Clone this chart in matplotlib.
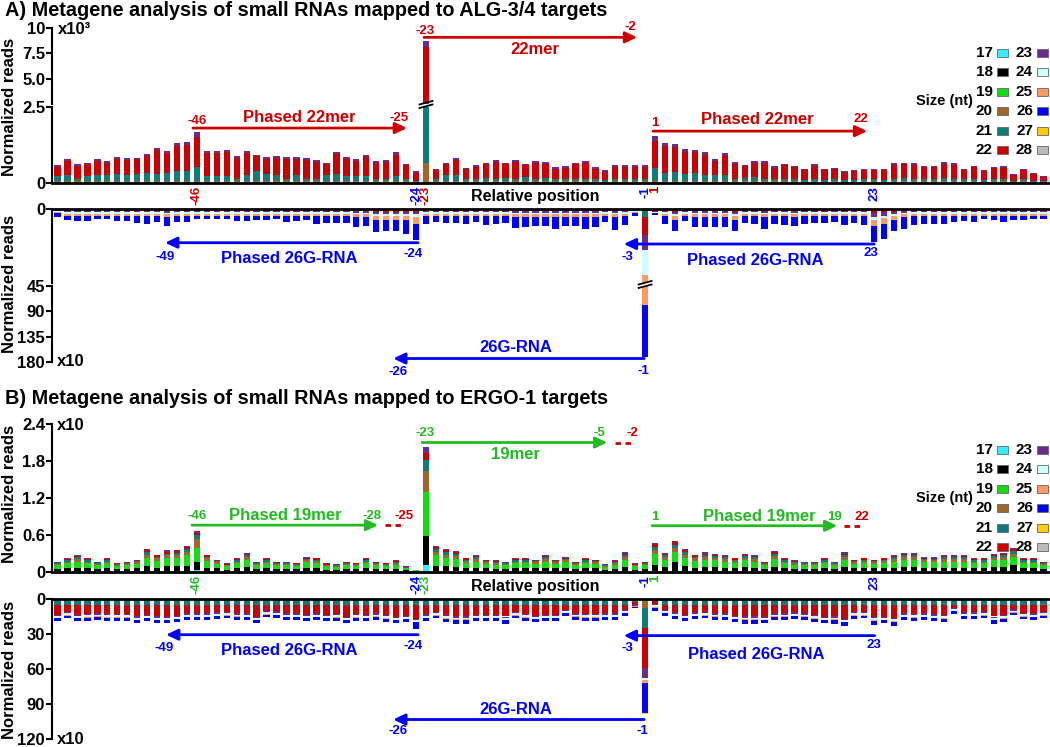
import matplotlib
matplotlib.use("Agg")
import matplotlib.pyplot as plt
from matplotlib.patches import Rectangle
from matplotlib.transforms import blended_transform_factory
import numpy as np

plt.rcParams['font.family'] = ['Liberation Sans', 'DejaVu Sans']
plt.rcParams['font.weight'] = 'bold'
plt.rcParams['axes.linewidth'] = 1.5

W, H = 1050, 747
fig = plt.figure(figsize=(W / 100, H / 100), dpi=100)

# ---------------- categories ----------------
positions = list(range(-60, 0)) + list(range(1, 41))
size_nt = [17, 18, 19, 20, 21, 22, 23, 24, 25, 26, 27, 28]
size_colors = {17: '#33EEFF', 18: '#000000', 19: '#11DD11', 20: '#A0662A',
               21: '#0E7C7B', 22: '#CC0000', 23: '#6A2C91', 24: '#CCFFFF',
               25: '#FF9966', 26: '#0000FF', 27: '#FFCC00', 28: '#BBBBBB'}

# ---------------- Panel A, sense (x10^3 reads) ----------------
a20 = [.06, .07, .06, .07, .07, .08, .07, .07, .08, .07,
       .07, .07, .08, .08, .09, .07, .07, .06, .06, .07,
       .08, .07, .07, .06, .07, .06, .06, .07, .07, .07,
       .07, .07, .06, .06, .07, .06, .05, .65, .06, .07,
       .07, .06, .06, .06, .06, .06, .06, .06, .06, .06,
       .06, .06, .06, .06, .06, .05, .06, .06, .06, .06,
       .07, .07, .07, .07, .07, .06, .06, .06, .06, .06,
       .06, .06, .06, .06, .06, .05, .06, .05, .06, .05,
       .05, .06, .06, .05, .06, .06, .06, .06, .06, .06,
       .06, .06, .06, .05, .06, .06, .05, .06, .05, .04]
a21 = [.17, .20, .09, .18, .20, .18, .23, .20, .23, .26,
       .23, .26, .31, .33, .44, .18, .18, .18, .07, .20,
       .31, .23, .20, .09, .20, .09, .09, .20, .23, .18,
       .18, .18, .09, .09, .17, .09, .04, 1.95, .07, .20,
       .20, .07, .09, .13, .09, .13, .09, .15, .09, .13,
       .07, .09, .09, .07, .07, .05, .09, .07, .09, .09,
       .42, .26, .31, .23, .26, .20, .20, .21, .09, .13,
       .15, .08, .09, .07, .09, .05, .09, .06, .09, .05,
       .06, .07, .07, .05, .09, .10, .09, .07, .09, .11,
       .09, .07, .08, .05, .09, .07, .03, .07, .03, .02]
a22 = [.30, .45, .41, .37, .47, .42, .49, .50, .47, .56,
       .79, .67, .83, .83, .99, .74, .74, .79, .70, .72,
       .49, .51, .56, .65, .54, .62, .56, .35, .65, .54,
       .47, .61, .51, .56, .70, .44, .25, 5.55, .29, .35,
       .50, .33, .40, .43, .54, .43, .56, .38, .53, .45,
       .35, .36, .48, .55, .35, .28, .39, .42, .39, .40,
       .89, .89, .80, .73, .68, .68, .48, .64, .48, .37,
       .45, .52, .36, .46, .37, .33, .42, .31, .31, .25,
       .29, .30, .30, .33, .45, .47, .45, .39, .37, .47,
       .45, .31, .38, .30, .35, .38, .20, .29, .22, .15]
a23 = [.06, .06, .06, .06, .06, .06, .06, .06, .06, .06,
       .08, .06, .10, .10, .16, .06, .06, .06, .06, .06,
       .06, .06, .06, .06, .06, .06, .06, .06, .06, .06,
       .06, .06, .06, .06, .08, .05, .05, .60, .06, .06,
       .06, .05, .05, .05, .06, .05, .06, .05, .06, .05,
       .05, .05, .05, .06, .05, .04, .05, .05, .05, .05,
       .18, .10, .12, .08, .08, .08, .07, .08, .06, .05,
       .06, .06, .05, .05, .05, .05, .05, .04, .05, .04,
       .04, .04, .04, .04, .05, .05, .05, .05, .05, .05,
       .05, .04, .05, .04, .05, .05, .03, .04, .03, .02]

# ---------------- Panel A, antisense (x10 reads) ----------------
b21 = [0, 0, 0, 0, 0, 0, 0, 0, 0, 0,
       0, 0, 0, 0, 0, 0, 0, 0, 0, 0,
       0, 0, 0, 0, 0, 0, 0, 0, 0, 0,
       0, 0, 0, 0, 0, 0, 0, 0, 0, 0,
       0, 0, 0, 0, 0, 0, 0, 0, 0, 0,
       0, 0, 0, 0, 0, 0, 0, 0, 0, 4.9,
       0, 0, 0, 0, 0, 0, 0, 0, 0, 0,
       0, 0, 0, 0, 0, 0, 0, 0, 0, 0,
       0, 0, 0, 0, 0, 0, 0, 0, 0, 0,
       0, 0, 0, 0, 0, 0, 0, 0, 0, 0]
b22 = [.8, 1.2, 1.2, 1.2, 1.2, 1.2, 1.2, 1.2, 1.2, 1.2,
       1.2, 1.3, 1.2, 1.2, 1.2, 1.2, 1.2, 1.2, 1.2, 1.2,
       1.2, 1.2, 1.2, 1.2, 1.2, 1.2, 1.2, 1.2, 1.2, 1.2,
       1.3, 1.3, 1.4, 1.4, 1.4, 1.4, 1.4, 1.2, 1.2, 1.2,
       1.2, 1.2, 1.2, 1.2, 1.2, 1.2, 1.3, 1.3, 1.3, 1.3,
       1.3, 1.3, 1.3, 1.3, 1.3, 1.2, 1.3, 1.2, .8, 11.0,
       1.5, 1.2, 1.4, 1.2, 1.3, 1.3, 1.3, 1.3, 1.4, 1.2,
       1.2, 1.3, 1.2, 1.2, 1.3, 1.2, 1.2, 1.2, 1.2, 1.2,
       1.2, 1.2, 2.0, 1.8, 1.4, 1.3, 1.2, 1.2, 1.2, 1.2,
       1.2, 1.2, 1.2, 1.2, 1.2, 1.2, 1.2, 1.2, 1.2, 1.2]
b23 = [.3, .4, .4, .4, .4, .4, .4, .4, .4, .4,
       .4, .7, .4, .4, .4, .4, .4, .4, .4, .4,
       .4, .4, .4, .4, .4, .4, .4, .4, .4, .4,
       .7, .7, 1.2, 1.2, 1.2, 1.2, 1.6, .4, .4, .4,
       .4, .4, .4, .4, .4, .4, .7, .7, .7, .7,
       .7, .7, .7, .7, .7, .4, .7, .4, .3, 9.0,
       .3, .4, 1.2, .4, .7, .7, .7, .7, 1.2, .4,
       .4, .7, .4, .4, .7, .4, .4, .4, .4, .4,
       .4, .4, 2.8, 2.0, 1.2, .7, .4, .4, .4, .4,
       .4, .4, .4, .4, .4, .4, .4, .4, .4, .4]
b24 = [.6, 1.0, 1.0, 1.0, 1.0, 1.0, 1.0, 1.0, 1.0, 1.0,
       1.0, 1.0, 1.0, 1.0, 1.0, 1.0, 1.0, 1.0, 1.0, 1.0,
       1.0, 1.0, 1.0, 1.0, 1.0, 1.0, 1.0, 1.0, 1.0, 1.0,
       1.0, 1.0, 1.2, 1.2, 1.2, 1.2, 1.4, 1.0, 1.0, 1.0,
       1.0, 1.0, 1.0, 1.0, 1.0, 1.0, 1.0, 1.0, 1.0, 1.0,
       1.0, 1.0, 1.0, 1.0, 1.0, 1.0, 1.0, 1.0, .6, 15.0,
       .4, 1.0, 1.2, 1.0, 1.0, 1.0, 1.0, 1.0, 1.2, 1.0,
       1.0, 1.0, 1.0, 1.0, 1.0, 1.0, 1.0, 1.0, 1.0, 1.0,
       1.0, 1.0, 1.6, 1.5, 1.2, 1.0, 1.0, 1.0, 1.0, 1.0,
       1.0, 1.0, 1.0, 1.0, 1.0, 1.0, 1.0, 1.0, 1.0, 1.0]
b25 = [.6, 1.2, 1.2, 1.2, 1.2, 1.2, 1.2, 1.2, 1.2, 1.2,
       1.2, 2.0, 1.2, 1.2, 1.2, 1.2, 1.2, 1.2, 1.2, 1.2,
       1.2, 1.2, 1.2, 1.2, 1.2, 1.2, 1.2, 1.2, 1.2, 1.2,
       2.0, 2.0, 3.0, 3.0, 3.0, 3.0, 4.7, 1.2, 1.2, 1.2,
       1.2, 1.2, 1.2, 1.2, 1.2, 1.2, 2.0, 2.0, 2.0, 2.0,
       2.0, 2.0, 2.0, 2.0, 2.0, 1.2, 2.0, 1.2, .6, 39.0,
       .3, 1.2, 3.0, 1.2, 2.0, 2.0, 2.0, 2.0, 3.0, 1.2,
       1.2, 2.0, 1.2, 1.2, 2.0, 1.2, 1.2, 1.2, 1.2, 1.2,
       1.2, 1.2, 3.7, 3.5, 3.0, 2.0, 1.2, 1.2, 1.2, 1.2,
       1.2, 1.2, 1.2, 1.2, 1.2, 1.2, 1.2, 1.2, 1.2, 1.2]
b26 = [2.2, 2.7, 3.1, 3.3, 2.3, 2.1, 3.3, 3.1, 4.3, 5.3,
       3.7, 5.0, 3.7, 3.7, 2.1, 2.3, 2.1, 2.1, 3.3, 3.1,
       2.7, 2.7, 2.3, 3.7, 3.1, 2.7, 5.1, 4.3, 4.3, 4.3,
       6.0, 5.2, 6.8, 6.2, 6.2, 8.4, 9.6, 5.3, 4.1, 4.7,
       4.7, 5.3, 4.1, 5.8, 5.3, 4.7, 6.2, 5.6, 5.0, 5.0,
       7.2, 5.0, 5.0, 7.2, 6.0, 4.1, 7.6, 5.8, 1.8, 93.0,
       1.0, 5.1, 6.4, 3.3, 6.0, 5.6, 5.6, 5.6, 6.2, 4.7,
       5.3, 7.0, 5.1, 5.8, 5.0, 5.3, 4.3, 4.7, 4.1, 5.8,
       4.3, 5.8, 9.6, 9.3, 6.4, 6.8, 6.0, 5.1, 5.1, 5.1,
       3.9, 3.1, 4.1, 2.1, 2.7, 3.9, 2.7, 2.7, 2.3, 2.1]

# ---------------- Panel B, sense (x10 reads) ----------------
c17 = [.02, .02, .02, .02, .02, .02, .02, .02, .02, .02,
       .02, .02, .02, .02, .04, .02, .02, .02, .02, .02,
       .02, .02, .02, .02, .02, .02, .02, .02, .02, .02,
       .02, .02, .02, .02, .02, .02, .01, .12, .02, .02,
       .02, .02, .02, .02, .02, .02, .02, .02, .02, .02,
       .02, .02, .02, .02, .02, .02, .02, .02, .02, .02,
       .02, .02, .02, .02, .02, .02, .02, .02, .02, .02,
       .02, .02, .02, .02, .02, .02, .02, .02, .02, .02,
       .02, .02, .02, .02, .02, .02, .02, .02, .02, .02,
       .02, .02, .02, .02, .02, .02, .02, .02, .02, .02]
c18 = [.03, .04, .05, .04, .03, .04, .03, .03, .04, .07,
       .05, .07, .07, .08, .13, .05, .04, .02, .04, .06,
       .03, .04, .03, .03, .03, .05, .04, .02, .02, .03,
       .03, .04, .03, .03, .03, .01, .01, .47, .08, .07,
       .06, .04, .05, .04, .03, .03, .04, .04, .04, .05,
       .04, .05, .03, .04, .04, .02, .03, .06, .02, .03,
       .09, .06, .15, .07, .05, .06, .06, .05, .04, .06,
       .05, .03, .06, .04, .03, .03, .03, .04, .03, .06,
       .04, .04, .04, .04, .05, .06, .06, .05, .05, .05,
       .05, .05, .04, .04, .06, .06, .10, .04, .04, .03]
c19 = [.06, .08, .10, .08, .06, .08, .05, .06, .07, .14,
       .11, .13, .14, .17, .22, .11, .07, .05, .08, .12,
       .06, .08, .06, .06, .05, .09, .09, .05, .04, .06,
       .05, .08, .06, .05, .07, .03, .01, .71, .17, .14,
       .13, .09, .10, .07, .07, .06, .08, .08, .07, .10,
       .07, .09, .06, .08, .07, .04, .07, .12, .05, .06,
       .18, .12, .15, .14, .11, .12, .11, .10, .09, .11,
       .10, .06, .13, .08, .07, .06, .06, .08, .06, .12,
       .07, .09, .07, .09, .10, .12, .12, .09, .09, .10,
       .10, .10, .08, .08, .11, .12, .13, .08, .08, .06]
c20 = [.02, .03, .04, .03, .02, .03, .02, .02, .03, .05,
       .04, .05, .05, .06, .15, .04, .03, .02, .03, .04,
       .02, .03, .02, .02, .02, .03, .03, .02, .02, .02,
       .02, .03, .02, .02, .03, .01, .00, .34, .06, .05,
       .05, .03, .04, .03, .03, .02, .03, .03, .03, .04,
       .03, .03, .02, .03, .03, .02, .03, .05, .02, .02,
       .07, .04, .07, .05, .04, .05, .04, .04, .03, .04,
       .04, .02, .05, .03, .03, .02, .02, .03, .02, .05,
       .03, .03, .03, .03, .04, .05, .04, .03, .03, .04,
       .04, .04, .03, .03, .04, .04, .05, .03, .03, .02]
c21 = [.01, .02, .03, .02, .01, .02, .01, .02, .02, .04,
       .03, .03, .03, .04, .06, .03, .02, .01, .02, .03,
       .01, .02, .02, .01, .01, .02, .02, .01, .01, .02,
       .01, .02, .02, .01, .02, .01, .00, .17, .04, .04,
       .03, .02, .03, .02, .02, .01, .02, .02, .02, .03,
       .02, .02, .02, .02, .02, .01, .02, .03, .01, .02,
       .05, .03, .05, .04, .03, .03, .03, .03, .02, .03,
       .03, .02, .03, .02, .02, .01, .02, .02, .01, .03,
       .02, .02, .02, .02, .03, .03, .03, .02, .02, .03,
       .03, .03, .02, .02, .03, .03, .04, .02, .02, .02]
c22 = [.01, .02, .02, .02, .01, .02, .01, .01, .01, .03,
       .02, .03, .03, .03, .04, .02, .01, .01, .02, .02,
       .01, .02, .01, .01, .01, .02, .02, .01, .01, .01,
       .01, .02, .01, .01, .01, .01, .00, .12, .03, .03,
       .03, .02, .02, .01, .01, .01, .02, .02, .01, .02,
       .01, .02, .01, .02, .01, .01, .01, .02, .01, .01,
       .04, .02, .04, .03, .02, .02, .02, .02, .02, .02,
       .02, .01, .03, .02, .01, .01, .01, .02, .01, .02,
       .01, .02, .01, .02, .02, .02, .02, .02, .02, .02,
       .02, .02, .02, .02, .02, .02, .03, .02, .02, .01]
c23 = [.01, .01, .01, .01, .01, .01, .01, .01, .01, .02,
       .01, .02, .02, .02, .03, .01, .01, .01, .01, .01,
       .01, .01, .01, .01, .01, .01, .01, .01, .01, .01,
       .01, .01, .01, .01, .01, .00, .00, .09, .02, .02,
       .02, .01, .01, .01, .01, .01, .01, .01, .01, .01,
       .01, .01, .01, .01, .01, .01, .01, .02, .01, .01,
       .02, .01, .02, .02, .01, .02, .01, .01, .01, .01,
       .01, .01, .02, .01, .01, .01, .01, .01, .01, .02,
       .01, .01, .01, .01, .01, .01, .01, .01, .01, .01,
       .01, .01, .01, .01, .01, .01, .02, .01, .01, .01]

# ---------------- Panel B, antisense (x10 reads) ----------------
d19 = [.5, .5, .5, .5, .5, .5, .5, .5, .5, .5,
       .5, .5, .5, .5, .5, .5, .5, .5, .5, .5,
       .5, .5, .5, .5, .5, .5, .5, .5, .5, .5,
       .5, .5, .5, .5, .5, .5, .5, .5, .5, .5,
       .5, .5, .5, .5, .5, .5, .5, .5, .5, .5,
       .5, .5, .5, .5, .5, .5, .5, .5, .3, 1.7,
       .3, .5, .5, .5, .5, .5, .5, .5, .5, .5,
       .5, .5, .5, .5, .5, .5, .5, .5, .5, .5,
       .5, .5, .5, .5, .5, .5, .5, .5, .5, .5,
       .5, .5, .5, .5, .5, .5, .5, .5, .5, .5]
d20 = [1.0, 1.0, 1.0, 1.0, 1.0, 1.0, 1.0, 1.0, 1.0, 1.0,
       1.0, 1.0, 1.0, 1.0, 1.0, 1.0, 1.0, 1.0, 1.0, 1.0,
       1.0, 1.0, 1.0, 1.0, 1.0, 1.0, 1.0, 1.0, 1.0, 1.0,
       1.0, 1.0, 1.0, 1.0, 1.0, 1.0, 1.0, 1.0, 1.0, 1.0,
       1.0, 1.0, 1.0, 1.0, 1.0, 1.0, 1.0, 1.0, 1.0, 1.0,
       1.0, 1.0, 1.0, 1.0, 1.0, 1.0, 1.0, 1.0, .5, 6.1,
       .5, 1.0, 1.0, 1.0, 1.0, 1.0, 1.0, 1.0, 1.0, 1.0,
       1.0, 1.0, 1.0, 1.0, 1.0, 1.0, 1.0, 1.0, 1.0, 1.0,
       1.0, 1.0, 1.0, 1.0, 1.0, 1.0, 1.0, 1.0, 1.0, 1.0,
       1.0, 1.0, 1.0, 1.0, 1.0, 1.0, 1.0, 1.0, 1.0, 1.0]
d21 = [3.5, 3.5, 3.5, 3.5, 3.5, 3.5, 3.5, 3.5, 3.5, 3.5,
       3.5, 3.5, 3.5, 3.5, 3.5, 3.5, 3.5, 3.5, 3.5, 3.5,
       3.5, 3.5, 3.5, 3.5, 3.5, 3.5, 3.5, 3.5, 3.5, 3.5,
       3.5, 3.5, 3.5, 3.5, 3.5, 3.5, 3.5, 3.5, 3.5, 3.5,
       3.5, 3.5, 3.5, 3.5, 3.5, 3.5, 3.5, 3.5, 3.5, 3.5,
       3.5, 3.5, 3.5, 3.5, 3.5, 3.5, 3.5, 3.5, 2.0, 16.7,
       1.0, 3.5, 3.5, 3.5, 3.5, 3.5, 3.5, 3.5, 3.5, 3.5,
       3.5, 3.5, 3.5, 3.5, 3.5, 3.5, 3.5, 3.5, 3.5, 3.5,
       3.5, 3.5, 3.5, 3.5, 3.5, 3.5, 3.5, 3.5, 3.5, 3.5,
       3.5, 3.5, 3.5, 3.5, 3.5, 3.5, 3.5, 3.5, 3.5, 3.5]
d22 = [8.5, 6.0, 8.5, 7.9, 7.1, 7.9, 7.9, 7.9, 9.9, 8.5,
       9.9, 10.1, 9.3, 7.4, 7.4, 7.4, 6.5, 6.0, 7.1, 7.4,
       10.1, 5.1, 5.7, 7.4, 7.4, 8.5, 7.4, 8.5, 7.9, 10.1,
       7.9, 8.5, 7.1, 8.7, 10.1, 9.3, 11.9, 8.2, 6.0, 8.7,
       9.7, 9.7, 8.5, 8.5, 8.5, 10.0, 6.0, 7.9, 9.3, 8.5,
       8.5, 4.2, 7.1, 7.9, 7.9, 7.4, 7.4, 4.2, 2.6, 34.7,
       2.8, 4.2, 6.5, 8.5, 6.5, 6.0, 7.1, 7.4, 9.3, 9.7,
       9.7, 10.1, 7.1, 7.1, 6.5, 7.1, 8.7, 10.1, 9.7, 11.8,
       6.2, 6.0, 10.5, 10.1, 11.3, 7.3, 7.9, 7.3, 8.2, 8.7,
       2.3, 6.5, 6.5, 6.0, 10.0, 8.7, 3.7, 6.8, 7.3, 6.0]
d23 = [1.2, 1.2, 1.2, 1.2, 1.2, 1.2, 1.2, 1.2, 1.2, 1.2,
       1.2, 1.2, 1.2, 1.2, 1.2, 1.2, 1.2, 1.2, 1.2, 1.2,
       1.2, 1.2, 1.2, 1.2, 1.2, 1.2, 1.2, 1.2, 1.2, 1.2,
       1.2, 1.2, 1.2, 1.2, 1.2, 1.2, 1.2, 1.2, 1.2, 1.2,
       1.2, 1.2, 1.2, 1.2, 1.2, 1.2, 1.2, 1.2, 1.2, 1.2,
       1.2, 1.2, 1.2, 1.2, 1.2, 1.2, 1.2, 1.2, .5, 8.3,
       .8, 1.2, 1.2, 1.2, 1.2, 1.2, 1.2, 1.2, 1.2, 1.2,
       1.2, 1.2, 1.2, 1.2, 1.2, 1.2, 1.2, 1.2, 1.2, 1.2,
       1.2, 1.2, 1.2, 1.2, 1.2, 1.2, 1.2, 1.2, 1.2, 1.2,
       1.2, 1.2, 1.2, 1.2, 1.2, 1.2, 1.2, 1.2, 1.2, 1.2]
d24 = [1.5, 1.5, 1.5, 1.5, 1.5, 1.5, 1.5, 1.5, 1.5, 1.5,
       1.5, 1.5, 1.5, 1.5, 1.5, 1.5, 1.5, 1.5, 1.5, 1.5,
       1.5, 1.5, 1.5, 1.5, 1.5, 1.5, 1.5, 1.5, 1.5, 1.5,
       1.5, 1.5, 1.5, 1.5, 1.5, 1.5, 1.5, 1.5, 1.5, 1.5,
       1.5, 1.5, 1.5, 1.5, 1.5, 1.5, 1.5, 1.5, 1.5, 1.5,
       1.5, 1.5, 1.5, 1.5, 1.5, 1.5, 1.5, 1.5, .5, 2.0,
       1.5, 1.5, 1.5, 1.5, 1.5, 1.5, 1.5, 1.5, 1.5, 1.5,
       1.5, 1.5, 1.5, 1.5, 1.5, 1.5, 1.5, 1.5, 1.5, 1.5,
       1.5, 1.5, 1.5, 1.5, 1.5, 1.5, 1.5, 1.5, 1.5, 1.5,
       1.5, 1.5, 1.5, 1.5, 1.5, 1.5, 1.5, 1.5, 1.5, 1.5]
d25 = [.5, .5, .5, .5, .5, .5, .5, .5, .5, .5,
       .5, .5, .5, .5, .5, .5, .5, .5, .5, .5,
       .5, .5, .5, .5, .5, .5, .5, .5, .5, .5,
       .5, .5, .5, .5, .5, .5, .5, .5, .5, .5,
       .5, .5, .5, .5, .5, .5, .5, .5, .5, .5,
       .5, .5, .5, .5, .5, .5, .5, .5, .3, 2.8,
       .4, .5, .5, .5, .5, .5, .5, .5, .5, .5,
       .5, .5, .5, .5, .5, .5, .5, .5, .5, .5,
       .5, .5, .5, .5, .5, .5, .5, .5, .5, .5,
       .5, .5, .5, .5, .5, .5, .5, .5, .5, .5]
d26 = [2.5, 2.5, 2.5, 2.5, 2.5, 2.5, 2.5, 2.5, 2.5, 2.5,
       2.5, 2.5, 2.5, 2.5, 2.5, 2.5, 2.5, 2.5, 2.5, 2.5,
       2.5, 2.5, 2.5, 2.5, 2.5, 2.5, 2.5, 2.5, 2.5, 2.5,
       2.5, 2.5, 2.5, 2.5, 2.5, 2.5, 6.0, 2.5, 2.5, 2.5,
       3.5, 3.5, 2.5, 2.5, 2.5, 3.5, 2.5, 2.5, 2.5, 2.5,
       2.5, 2.0, 2.5, 2.5, 2.5, 2.5, 2.5, 2.0, 1.4, 25.8,
       3.0, 2.0, 2.5, 2.5, 2.5, 2.5, 2.5, 2.5, 2.5, 3.5,
       3.5, 2.5, 2.5, 2.5, 2.5, 2.5, 2.5, 2.5, 3.5, 3.5,
       2.5, 2.5, 3.5, 2.5, 3.5, 2.5, 2.5, 2.5, 2.5, 2.5,
       2.0, 2.5, 2.5, 2.5, 3.5, 2.5, 2.0, 2.5, 2.5, 2.5]
d27 = [0, 0, 0, 0, 0, 0, 0, 0, 0, 0,
       0, 0, 0, 0, 0, 0, 0, 0, 0, 0,
       0, 0, 0, 0, 0, 0, 0, 0, 0, 0,
       0, 0, 0, 0, 0, 0, 0, 0, 0, 0,
       0, 0, 0, 0, 0, 0, 0, 0, 0, 0,
       0, 0, 0, 0, 0, 0, 0, 0, 0, .8,
       0, 0, 0, 0, 0, 0, 0, 0, 0, 0,
       0, 0, 0, 0, 0, 0, 0, 0, 0, 0,
       0, 0, 0, 0, 0, 0, 0, 0, 0, 0,
       0, 0, 0, 0, 0, 0, 0, 0, 0, 0]

marked_positions = [-46, -24, -23, -1, 1, 23]

RED = '#CC0000'
BLUE = '#0000FF'
GREEN = '#22BB22'

x = np.arange(len(positions))


def ix(p):
    return positions.index(p)


def add_box(x0, y0, x1, y1):
    return fig.add_axes([x0 / W, 1 - y1 / H, (x1 - x0) / W, (y1 - y0) / H])


def stack(ax, comps):
    bottom = np.zeros(len(x))
    for s in size_nt:
        if s in comps:
            v = np.array(comps[s], float)
            ax.bar(x, v, bottom=bottom, width=0.64, color=size_colors[s],
                   linewidth=0)
            bottom += v


def style(ax, ylim, yticks, ylabels, spine=None):
    ax.set_xlim(-0.55, 99.45)
    for s in ['top', 'right', 'bottom']:
        ax.spines[s].set_visible(False)
    if spine:
        ax.spines[spine].set_visible(True)
        ax.spines[spine].set_linewidth(2)
    ax.spines['left'].set_linewidth(1.5)
    ax.set_yticks(yticks)
    ax.set_yticklabels(ylabels, fontsize=12, fontweight='bold')
    ax.set_ylim(*ylim)
    ax.tick_params(axis='y', length=4, width=1.5, pad=1)
    ax.set_xticks([])
    ax.patch.set_alpha(0)


def pos_labels(ax, colors):
    ax.set_xticks([ix(p) for p in marked_positions])
    ax.set_xticklabels([str(p) for p in marked_positions], rotation=90,
                       fontsize=9.5, fontweight='bold')
    for lab, c in zip(ax.get_xticklabels(), colors):
        lab.set_color(c)
    ax.tick_params(axis='x', length=0, pad=2)


def txt(ax, xi, y, s, color, size=9.5):
    ax.text(xi, y, s, color=color, fontsize=size, fontweight='bold',
            ha='center', va='center', clip_on=False)


def arrow(ax, x_tail, x_head, y, color):
    ax.annotate('', xy=(x_head, y), xytext=(x_tail, y),
                arrowprops=dict(arrowstyle='-|>,head_length=0.7,head_width=0.33',
                                color=color, lw=2, shrinkA=0, shrinkB=0),
                annotation_clip=False)


def dashed(ax, x0, x1, y):
    ax.plot([x0, x1], [y, y], color=RED, lw=2, ls=(0, (2, 1.6)), clip_on=False)


def ftext(xp, yp, s, size, color='black', ha='center', va='center', rot=0):
    fig.text(xp / W, 1 - yp / H, s, fontsize=size, fontweight='bold',
             color=color, ha=ha, va=va, rotation=rot)


def break_mark(ax, xi, y_fracs):
    tr = blended_transform_factory(ax.transData, ax.transAxes)
    for (ya, yb) in y_fracs:
        ax.plot([xi - 0.65, xi + 0.65], [ya, yb], color='black', lw=1.3,
                transform=tr, clip_on=False)


# ================= Panel A =================
compsA = {20: a20, 21: a21, 22: a22, 23: a23}
axAt = add_box(52, 28, 1048, 104)
axAb = add_box(52, 107, 1048, 183.3)
for ax in (axAt, axAb):
    stack(ax, compsA)
style(axAt, (2.5, 10), [5, 7.5, 10], ['5.0', '7.5', '10'])
style(axAb, (0, 2.5), [0, 2.5], ['0', '2.5'], spine='bottom')
pos_labels(axAb, [RED, BLUE, RED, BLUE, RED, BLUE])
break_mark(axAb, ix(-23), [(1.033, 1.079), (0.987, 1.033)])

compsA2 = {21: b21, 22: b22, 23: b23, 24: b24, 25: b25, 26: b26}
axBt = add_box(52, 209.3, 1048, 283)
axBb = add_box(52, 286, 1048, 362)
for ax in (axBt, axBb):
    stack(ax, compsA2)
style(axBt, (45, 0), [0], ['0'], spine='top')
style(axBb, (180, 45), [45, 90, 135, 180], ['45', '90', '135', '180'])
break_mark(axBb, ix(-1), [(1.02, 1.066), (0.974, 1.02)])

# annotations panel A sense
txt(axAt, 36.9, 9.7, '-23', RED)
arrow(axAt, ix(-23) - 0.2, 58.2, 9.08, RED)
txt(axAt, 57.5, 10.1, '-2', RED)
txt(axAt, 47.9, 7.83, '22mer', RED, 12)
txt(axAb, 14.0, 2.03, '-46', RED)
arrow(axAb, 13.6, 35.1, 1.81, RED)
txt(axAb, 24.3, 2.14, 'Phased 22mer', RED, 12)
txt(axAb, 34.3, 2.14, '-25', RED)
txt(axAb, 60.0, 1.97, '1', RED)
arrow(axAb, 59.8, 81.3, 1.71, RED)
txt(axAb, 70.3, 2.1, 'Phased 22mer', RED, 12)
txt(axAb, 80.7, 2.1, '22', RED)

# annotations panel A antisense
arrow(axBt, 36.2, 10.8, 20.4, BLUE)
txt(axBt, 10.8, 28.9, '-49', BLUE)
txt(axBt, 35.7, 27.3, '-24', BLUE)
txt(axBt, 23.3, 30.3, 'Phased 26G-RNA', BLUE, 12)
arrow(axBt, 82.0, 56.85, 21.2, BLUE)
txt(axBt, 57.2, 29.3, '-3', BLUE)
txt(axBt, 70.1, 31.3, 'Phased 26G-RNA', BLUE, 12)
txt(axBt, 81.7, 26.6, '23', BLUE)
arrow(axBb, 58.9, 33.7, 173.8, BLUE)
txt(axBb, 46.0, 153.6, '26G-RNA', BLUE, 12)
txt(axBb, 34.2, 198.3, '-26', BLUE)
txt(axBb, 58.8, 195.3, '-1', BLUE)

# ================= Panel B =================
compsB = {17: c17, 18: c18, 19: c19, 20: c20, 21: c21, 22: c22, 23: c23}
axC = add_box(52, 424, 1048, 572)
stack(axC, compsB)
style(axC, (0, 2.4), [0, 0.6, 1.2, 1.8, 2.4], ['0', '0.6', '1.2', '1.8', '2.4'],
      spine='bottom')
pos_labels(axC, [GREEN, BLUE, GREEN, BLUE, GREEN, BLUE])

compsB2 = {19: d19, 20: d20, 21: d21, 22: d22, 23: d23, 24: d24, 25: d25,
           26: d26, 27: d27}
axD = add_box(52, 599, 1048, 739)
stack(axD, compsB2)
style(axD, (120, 0), [0, 30, 60, 90, 120], ['0', '30', '60', '90', '120'],
      spine='top')

txt(axC, 36.9, 2.25, '-23', GREEN)
arrow(axC, 36.6, 55.2, 2.10, GREEN)
txt(axC, 54.4, 2.26, '-5', GREEN)
dashed(axC, 56.0, 58.0, 2.10)
txt(axC, 57.7, 2.26, '-2', RED)
txt(axC, 46.0, 1.90, '19mer', GREEN, 12)
txt(axC, 14.0, 0.91, '-46', GREEN)
arrow(axC, 13.5, 32.2, 0.76, GREEN)
txt(axC, 22.9, 0.91, 'Phased 19mer', GREEN, 12)
txt(axC, 31.6, 0.91, '-28', GREEN)
dashed(axC, 32.9, 34.9, 0.76)
txt(axC, 34.8, 0.91, '-25', RED)
txt(axC, 60.0, 0.90, '1', GREEN)
arrow(axC, 59.7, 78.3, 0.75, GREEN)
txt(axC, 70.5, 0.90, 'Phased 19mer', GREEN, 12)
txt(axC, 78.0, 0.90, '19', GREEN)
dashed(axC, 79.0, 81.0, 0.75)
txt(axC, 80.8, 0.90, '22', RED)

arrow(axD, 36.2, 10.9, 30.6, BLUE)
txt(axD, 10.7, 41.7, '-49', BLUE)
txt(axD, 35.7, 40.0, '-24', BLUE)
txt(axD, 23.3, 44.2, 'Phased 26G-RNA', BLUE, 12)
arrow(axD, 82.05, 56.85, 31.4, BLUE)
txt(axD, 57.2, 41.7, '-3', BLUE)
txt(axD, 70.2, 47.5, 'Phased 26G-RNA', BLUE, 12)
txt(axD, 82.0, 39.5, '23', BLUE)
arrow(axD, 58.9, 33.7, 103.3, BLUE)
txt(axD, 46.0, 95.0, '26G-RNA', BLUE, 12)
txt(axD, 34.2, 113.3, '-26', BLUE)
txt(axD, 58.7, 113.3, '-1', BLUE)

# ================= figure texts =================
ftext(5, 11, 'A) Metagene analysis of small RNAs mapped to ALG-3/4 targets', 14.3, ha='left')
ftext(5, 398, 'B) Metagene analysis of small RNAs mapped to ERGO-1 targets', 14.3, ha='left')
for yc in (107, 284, 494, 670):
    ftext(10, yc, 'Normalized reads', 12, rot=90)
ftext(58, 29, 'x10³', 12, ha='left')
ftext(57, 362, 'x10', 12, ha='left')
ftext(57, 425, 'x10', 12, ha='left')
ftext(57, 739, 'x10', 12, ha='left')
ftext(535, 197, 'Relative position', 11.5)
ftext(535, 587, 'Relative position', 11.5)

# legends
for y0 in (53, 450):
    ftext(973, y0 + 2.45 * 19.4, 'Size (nt)', 10.5, ha='right')
    for k, s in enumerate(size_nt):
        col, row = divmod(k, 6)
        yy = y0 + row * 19.4
        xl = 993 + col * 40
        ftext(xl, yy, str(s), 11, ha='right')
        fig.patches.append(Rectangle(((xl + 4) / W, 1 - (yy + 4) / H), 11 / W, 8 / H,
                                     transform=fig.transFigure,
                                     facecolor=size_colors[s], edgecolor='0.4',
                                     linewidth=0.6))

fig.savefig('out.png', dpi=100)
